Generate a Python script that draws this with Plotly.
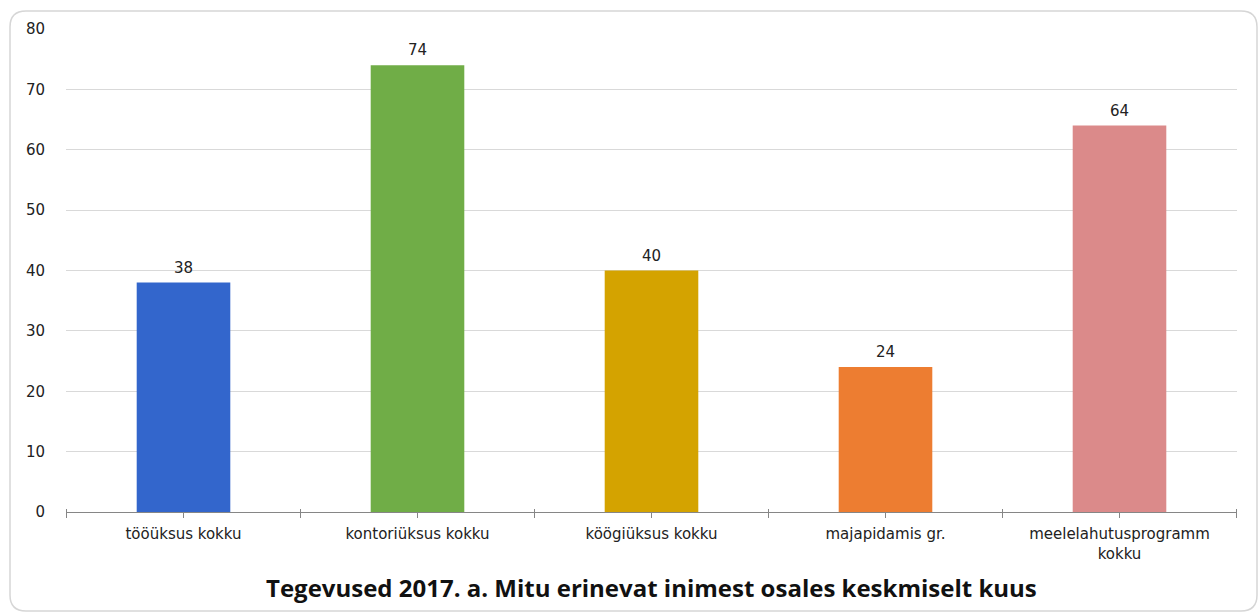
import plotly.graph_objects as go

# Activity groups and average monthly participants
categories = [
    "tööüksus kokku",
    "kontoriüksus kokku",
    "köögiüksus kokku",
    "majapidamis gr.",
    "meelelahutusprogramm<br>kokku",
]
participants = [38, 74, 40, 24, 64]
bar_colors = ["#3366CC", "#70AD47", "#D4A300", "#ED7D31", "#DB8A8A"]
y_ticks = [0, 10, 20, 30, 40, 50, 60, 70, 80]
chart_title = "Tegevused 2017. a. Mitu erinevat inimest osales keskmiselt kuus"

W, H = 1260, 614
ML, MR, MT, MB = 66, 23, 29, 102
PW, PH = W - ML - MR, H - MT - MB

tick_font = dict(family="DejaVu Sans, Verdana, sans-serif", size=15, color="#222222")

fig = go.Figure(
    go.Bar(
        x=categories,
        y=participants,
        marker=dict(color=bar_colors, line=dict(width=0)),
        width=0.4,
        hoverinfo="x+y",
    )
)

# value labels above bars
for c, v in zip(categories, participants):
    fig.add_annotation(
        x=c, y=v, text=str(v), showarrow=False,
        yanchor="bottom", yshift=4, font=tick_font,
    )

# tick marks on the category axis: boundaries and centres
shapes = []
n = len(categories)
for k in range(2 * n + 1):
    pos = -0.5 + k * 0.5
    shapes.append(dict(
        type="line", xref="x", yref="paper",
        x0=pos, x1=pos, y0=-6 / PH, y1=(3 / PH) if k % 2 == 0 else 0,
        line=dict(color="#868686", width=1),
    ))


# rounded chart border
def px_x(p):
    return (p - ML) / PW


def px_y(p):
    return 1 - (p - MT) / PH


bx0, by0, bx1, by1, r = 10, 11, 1257, 611, 16
path = (
    f"M {px_x(bx0 + r)},{px_y(by0)} L {px_x(bx1 - r)},{px_y(by0)} "
    f"Q {px_x(bx1)},{px_y(by0)} {px_x(bx1)},{px_y(by0 + r)} "
    f"L {px_x(bx1)},{px_y(by1 - r)} "
    f"Q {px_x(bx1)},{px_y(by1)} {px_x(bx1 - r)},{px_y(by1)} "
    f"L {px_x(bx0 + r)},{px_y(by1)} "
    f"Q {px_x(bx0)},{px_y(by1)} {px_x(bx0)},{px_y(by1 - r)} "
    f"L {px_x(bx0)},{px_y(by0 + r)} "
    f"Q {px_x(bx0)},{px_y(by0)} {px_x(bx0 + r)},{px_y(by0)} Z"
)
shapes.append(dict(type="path", xref="paper", yref="paper", path=path,
                   line=dict(color="#D6D6D6", width=1.5), layer="below"))

fig.add_annotation(
    xref="paper", yref="paper", x=0.5, y=px_y(587),
    text=f"<b>{chart_title}</b>", showarrow=False,
    font=dict(family="Open Sans, sans-serif", size=24, color="#111111"),
    yanchor="middle",
)

fig.update_layout(
    width=W, height=H,
    margin=dict(l=ML, r=MR, t=MT, b=MB),
    paper_bgcolor="white", plot_bgcolor="white",
    showlegend=False,
    shapes=shapes,
    bargap=0.6,
    xaxis=dict(
        type="category",
        showline=True, linecolor="#868686", linewidth=1,
        showgrid=False, ticks="", tickfont=tick_font,
        ticklabelstandoff=8,
    ),
    yaxis=dict(
        range=[0, 80], tickvals=y_ticks,
        showgrid=True, gridcolor="#D9D9D9", gridwidth=1,
        zeroline=False, showline=False, ticks="",
        tickfont=tick_font, ticklabelstandoff=20,
    ),
)

fig.write_html("out.html")
